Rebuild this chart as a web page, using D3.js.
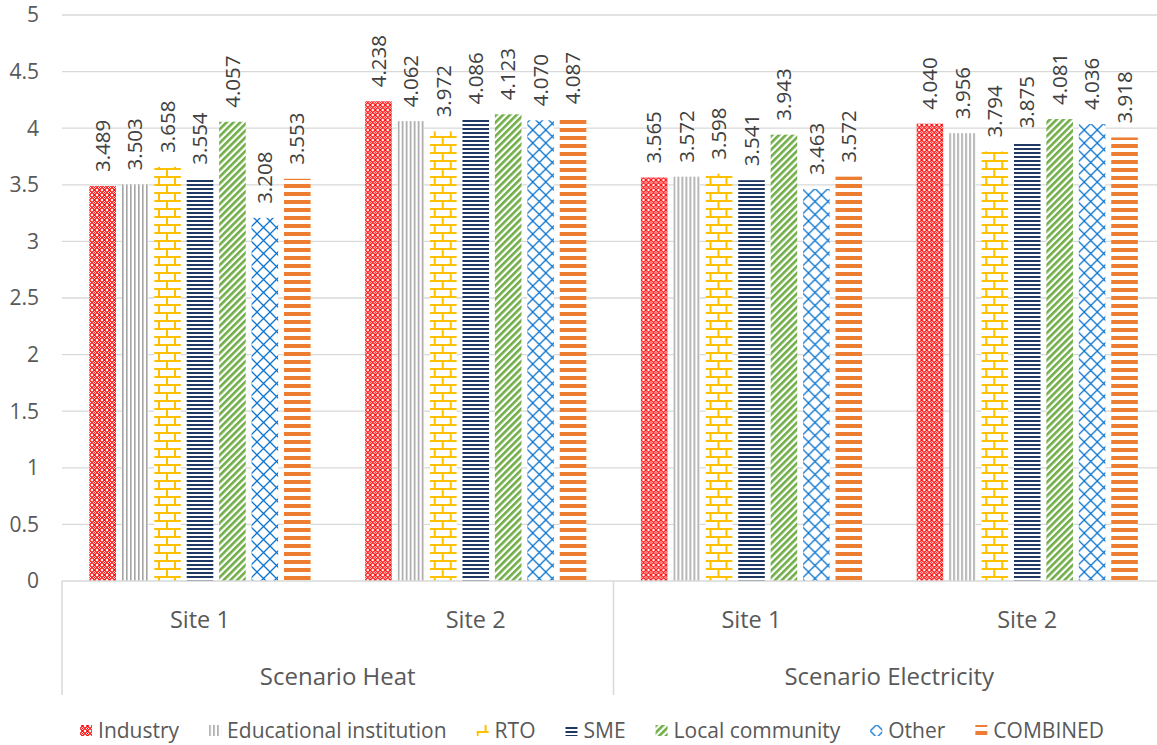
<!DOCTYPE html>
<html><head><meta charset="utf-8">
<script src="https://cdn.jsdelivr.net/npm/d3@7"></script>
<style>
body{margin:0;background:#fff;}
svg{display:block;font-family:"Open Sans",sans-serif;}
</style></head>
<body>
<svg id="chart" width="1157" height="745"></svg>
<script>
const sites = ["Site 1", "Site 2", "Site 1", "Site 2"];
const scenarios = ["Scenario Heat", "Scenario Electricity"];
const seriesNames = ["Industry", "Educational institution", "RTO", "SME", "Local community", "Other", "COMBINED"];
const industry   = [3.489, 4.238, 3.565, 4.040];
const educational= [3.503, 4.062, 3.572, 3.956];
const rto        = [3.658, 3.972, 3.598, 3.794];
const sme        = [3.554, 4.086, 3.541, 3.875];
const localComm  = [4.057, 4.123, 3.943, 4.081];
const other      = [3.208, 4.070, 3.463, 4.036];
const combined   = [3.553, 4.087, 3.572, 3.918];
const yTicks = [0, 0.5, 1, 1.5, 2, 2.5, 3, 3.5, 4, 4.5, 5];
const yTickLabels = ["0", "0.5", "1", "1.5", "2", "2.5", "3", "3.5", "4", "4.5", "5"];

const seriesValues = [industry, educational, rto, sme, localComm, other, combined];
const colors = ["#FF0000", "#A5A5A5", "#FFC000", "#1F3864", "#70AD47", "#0A74CF", "#ED7D31"];

const svg = d3.select("#chart");
const defs = svg.append("defs");

function pat(id, w, h, transform) {
  const p = defs.append("pattern").attr("id", id).attr("patternUnits", "userSpaceOnUse")
    .attr("width", w).attr("height", h);
  if (transform) p.attr("patternTransform", transform);
  p.append("rect").attr("width", w).attr("height", h).attr("fill", "#fff");
  return p;
}
{ const p = pat("p0", 5, 5);
  p.append("path").attr("d", "M0,2.5 L2.5,0 L5,2.5 L2.5,5 Z").attr("fill", "none").attr("stroke", colors[0]).attr("stroke-width", 1.2);
  p.append("rect").attr("x", 2).attr("y", 2).attr("width", 1).attr("height", 1).attr("fill", colors[0]); }
{ const p = pat("p1", 4, 4);
  p.append("rect").attr("x", 0).attr("width", 1.6).attr("height", 4).attr("fill", colors[1]); }
{ const p = pat("p2", 16, 16);
  p.append("rect").attr("x", 0).attr("y", 0).attr("width", 16).attr("height", 2).attr("fill", colors[2]);
  p.append("rect").attr("x", 0).attr("y", 8).attr("width", 16).attr("height", 2).attr("fill", colors[2]);
  p.append("rect").attr("x", 0).attr("y", 0).attr("width", 2).attr("height", 8).attr("fill", colors[2]);
  p.append("rect").attr("x", 8).attr("y", 8).attr("width", 2).attr("height", 8).attr("fill", colors[2]); }
{ const p = pat("p3", 4, 4);
  p.append("rect").attr("y", 0).attr("width", 4).attr("height", 2).attr("fill", colors[3]); }
{ const p = pat("p4", 4.8, 4.8, "rotate(45)");
  p.append("rect").attr("x", 0).attr("width", 2.6).attr("height", 4.8).attr("fill", colors[4]); }
{ const p = pat("p5", 13, 13);
  p.append("path").attr("d", "M0,0 L13,13 M13,0 L0,13").attr("stroke", colors[5]).attr("stroke-width", 1.3).attr("fill", "none"); }
{ const p = pat("p6", 8, 8);
  p.append("rect").attr("y", 0).attr("width", 8).attr("height", 4).attr("fill", colors[6]); }

const plotLeft = 62, plotRight = 1165, plotTop = 15, plotBottom = 581;
const y = d3.scaleLinear().domain([0, 5]).range([plotBottom, plotTop]);
const x0 = d3.scaleBand().domain(d3.range(sites.length)).range([plotLeft, plotRight]).padding(0);
const x1 = d3.scaleBand().domain(seriesNames).range([24.5, 251.5]).paddingInner(0.18).paddingOuter(0.09);

svg.append("g").selectAll("line").data(yTicks.filter(d => d > 0)).join("line")
  .attr("x1", plotLeft).attr("x2", plotRight).attr("y1", d => y(d)).attr("y2", d => y(d))
  .attr("stroke", "#D9D9D9").attr("stroke-width", 1.3);

svg.append("g").selectAll("text").data(yTicks).join("text")
  .attr("x", 39).attr("y", d => y(d)).attr("dy", "0.35em").attr("text-anchor", "end")
  .attr("fill", "#595959").attr("font-size", 21).text((d, i) => yTickLabels[i]);

const groups = svg.append("g").selectAll("g").data(sites).join("g")
  .attr("transform", (d, i) => `translate(${x0(i)},0)`);
groups.each(function(site, ci) {
  const g = d3.select(this);
  seriesNames.forEach((s, si) => {
    const v = seriesValues[si][ci];
    g.append("rect").attr("x", x1(s)).attr("y", y(v)).attr("width", x1.bandwidth())
      .attr("height", y(0) - y(v)).attr("fill", `url(#p${si})`);
    const cx = x1(s) + x1.bandwidth() / 2;
    g.append("text").attr("transform", `translate(${cx},${y(v) - 14}) rotate(-90)`)
      .attr("dy", "0.35em").attr("text-anchor", "start").attr("fill", "#404040")
      .attr("font-size", 20.5).text(v.toFixed(3));
  });
});

svg.append("line").attr("x1", plotLeft).attr("x2", plotRight).attr("y1", plotBottom).attr("y2", plotBottom)
  .attr("stroke", "#D9D9D9").attr("stroke-width", 1.5);
const sepX = [plotLeft, x0(2), plotRight];
svg.append("g").selectAll("line").data(sepX).join("line")
  .attr("x1", d => d).attr("x2", d => d).attr("y1", plotBottom).attr("y2", 695)
  .attr("stroke", "#D9D9D9").attr("stroke-width", 1.5);

svg.append("g").selectAll("text").data(sites).join("text")
  .attr("x", (d, i) => x0(i) + x0.bandwidth() / 2).attr("y", 620).attr("dy", "0.35em")
  .attr("text-anchor", "middle").attr("fill", "#595959").attr("font-size", 23.5).text(d => d);
svg.append("g").selectAll("text").data(scenarios).join("text")
  .attr("x", (d, i) => x0(i * 2) + x0.bandwidth()).attr("y", 677).attr("dy", "0.35em")
  .attr("text-anchor", "middle").attr("fill", "#595959").attr("font-size", 24).text(d => d);

const lg = svg.append("g");
let cursor = 0;
seriesNames.forEach((s, i) => {
  const it = lg.append("g");
  it.append("rect").attr("x", 0).attr("y", -6).attr("width", 12).attr("height", 11).attr("fill", `url(#p${i})`);
  const t = it.append("text").attr("x", 18).attr("y", 0).attr("dy", "0.35em").attr("fill", "#595959")
    .attr("font-size", 21).text(s);
  const w = 18 + t.node().getComputedTextLength();
  it.attr("transform", `translate(${cursor},731)`);
  cursor += w + 30;
});
const total = cursor - 30;
lg.attr("transform", `translate(${592 - total / 2},0)`);
</script>
</body></html>
